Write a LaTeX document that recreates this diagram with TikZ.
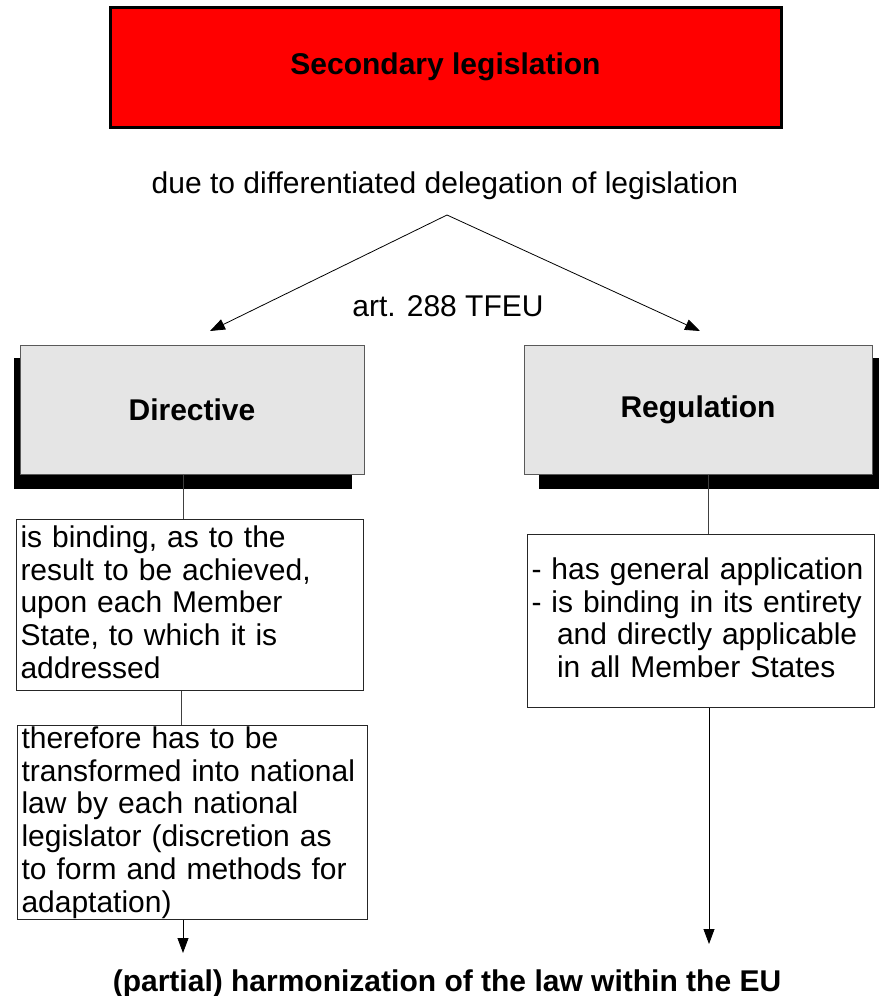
\documentclass[tikz,border=0pt]{standalone}
\usepackage{fontspec}
\setmainfont{Liberation Sans}
\usetikzlibrary{arrows.meta,calc}
\begin{document}
\begin{tikzpicture}[x=1pt,y=-1pt,
  txt/.style={font=\fontsize{30}{32.6}\selectfont},
  topbox/.style={draw=black, line width=3pt, fill=red, minimum width=671pt, minimum height=120pt, inner sep=0pt,
    font=\fontsize{30}{32.6}\selectfont\bfseries},
  kindbox/.style={draw=black!65, line width=1pt, fill=black!10, minimum width=344pt, minimum height=129pt, inner sep=0pt,
    font=\fontsize{30}{32.6}\selectfont\bfseries},
  shadowbox/.style={fill=black, draw=none},
  textbox/.style={draw=black!85, line width=1pt, fill=white, align=left, inner xsep=4pt, inner ysep=0pt,
    anchor=north west, font=\fontsize{30}{32.7}\selectfont},
  conn/.style={draw=black!75, line width=1pt},
  arr/.style={draw=black, line width=0.8pt, -{Triangle[length=15pt,width=11pt]}}
]
\useasboundingbox (0,0) rectangle (885,996);

% top box
\node[topbox] (sec) at (445.5,67) {Secondary legislation};

\node[txt, anchor=base] (due) at (445,193) {due to differentiated delegation of legislation};
\coordinate (apex) at (447,215);
\coordinate (ltip) at (210,331);
\coordinate (rtip) at (700,331);
\node[txt, anchor=base] (art) at (448,316) {art. 288 TFEU};
\draw[arr] (apex) -- (ltip);
\draw[arr] (apex) -- (rtip);

% shadows
\fill[shadowbox] (14,358) rectangle (352,489);
\fill[shadowbox] (539,358) rectangle (879,489);

% kind boxes
\node[kindbox] (dir) at (192,409.5) {Directive};
\node[kindbox, minimum width=348pt] (reg) at (698,409.5) {Regulation};

% text boxes
\node[textbox, text width=339pt, text height=28pt, text depth=143pt] (d1) at (16,519)
  {is binding, as to the\\result to be achieved,\\upon each Member\\State, to which it is\\addressed};
\node[textbox, text width=342pt, text height=23pt, text depth=171pt] (d2) at (17,725)
  {therefore has to be\\transformed into national\\law by each national\\legislator (discretion as\\to form and methods for\\adaptation)};
\node[textbox, text width=339pt, text height=45pt, text depth=128pt] (r1) at (527,534)
  {- has general application\\- is binding in its entirety\\\hspace*{0.85em}and directly applicable\\\hspace*{0.85em}in all Member States};

% connectors
\draw[conn] (dir.south -| 183,0) -- (d1.north -| 183,0);
\draw[conn] (d1.south -| 181,0) -- (d2.north -| 181,0);
\draw[conn] (reg.south -| 708,0) -- (r1.north -| 708,0);

\node[txt, font=\fontsize{30}{32.6}\selectfont\bfseries, anchor=base] (harm) at (447,991)
  {(partial) harmonization of the law within the EU};
\coordinate (lend) at (183,953);
\coordinate (rend) at (709,944);
\draw[arr] (d2.south -| lend) -- (lend);
\draw[arr] (r1.south -| rend) -- (rend);
\end{tikzpicture}
\end{document}
